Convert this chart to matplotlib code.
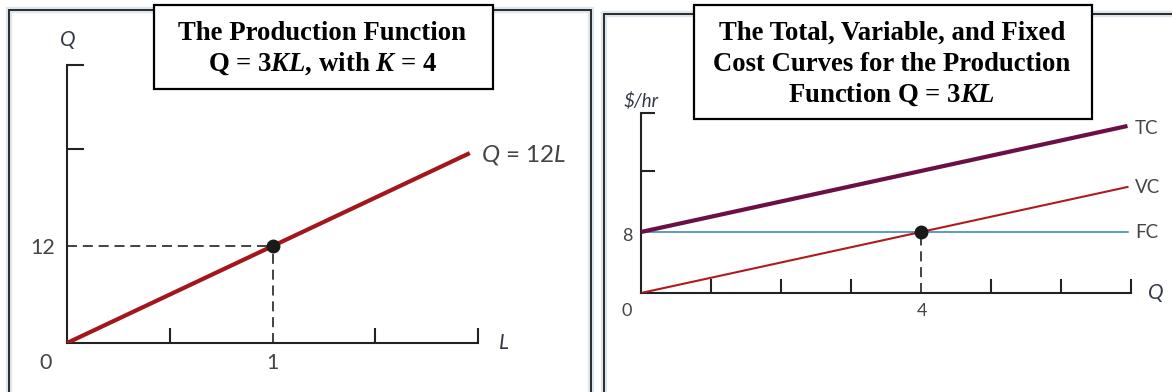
import matplotlib.pyplot as plt
from matplotlib.patches import Rectangle

plt.rcParams['mathtext.fontset'] = 'custom'
plt.rcParams['mathtext.it'] = 'Lato:italic'
plt.rcParams['mathtext.rm'] = 'Lato'
plt.rcParams['mathtext.bfit'] = 'Liberation Serif:italic:bold'

# production function Q = 12L (K = 4)
prod_L = [0, 1.96]
prod_Q = [0, 23.5]
prod_point = (1, 12)

# cost curves against output
cost_q = [0, 6.95]
tc = [8, 21.9]
vc = [0, 13.9]
fc = [8, 8]
cost_point = (4, 8)

W, H = 1172, 392
TXT = '#454548'
LBL = '#34394a'

fig = plt.figure(figsize=(W / 100, H / 100), dpi=100)

# overlay in pixel coordinates for the frames and title boxes
bg = fig.add_axes([0, 0, 1, 1])
bg.set_xlim(0, W)
bg.set_ylim(H, 0)
bg.axis('off')


def frame(x0, y0, x1, y1):
    xs = [x0, x0, x1, x1]
    ys = [y1, y0, y0, y1]
    bg.plot(xs, ys, color='#dde6ee', lw=4.5, solid_joinstyle='miter', zorder=1)
    bg.plot(xs, ys, color='#2a2a2a', lw=1.4, solid_joinstyle='miter', zorder=2)


frame(8.5, 9.5, 591, H + 10)
frame(604, 14, W + 10, H + 10)


def title_box(x0, y0, x1, y1, lines, cx, ys):
    bg.add_patch(Rectangle((x0, y0), x1 - x0, y1 - y0, facecolor='white',
                           edgecolor='black', lw=1.6, zorder=5))
    for s, y in zip(lines, ys):
        bg.text(cx, y, s, ha='center', va='center', fontsize=19.3,
                family='Liberation Serif', weight='bold', zorder=6)


title_box(153.5, 5, 492.5, 88.5,
          ['The Production Function',
           r'Q = 3$\mathbfit{KL}$, with $\mathbfit{K}$ = 4'],
          322, [33, 64])
title_box(693.5, 5, 1092, 119,
          ['The Total, Variable, and Fixed',
           'Cost Curves for the Production',
           r'Function Q = 3$\mathbfit{KL}$'],
          892, [33, 64, 95])


def data_axes(x0, y_top, x1, y_bot):
    ax = fig.add_axes([x0 / W, 1 - y_bot / H, (x1 - x0) / W, (y_bot - y_top) / H])
    ax.patch.set_alpha(0)
    for s in ['top', 'right']:
        ax.spines[s].set_visible(False)
    for s in ['left', 'bottom']:
        ax.spines[s].set_linewidth(1.5)
        ax.spines[s].set_color('#222222')
    ax.tick_params(direction='in', width=1.5, color='#222222',
                   labelleft=False, labelbottom=False)
    return ax


# left panel: production function
ax1 = data_axes(67, 65, 478, 343)
ax1.set_xlim(0, 2)
ax1.set_ylim(0, 34.4)
ax1.set_xticks([0.5, 1.5, 2])
ax1.set_yticks([24, 34.4])
ax1.tick_params(axis='x', length=11)
ax1.tick_params(axis='y', length=12.5)
ax1.plot(prod_L, prod_Q, color='#a3161c', lw=3, solid_capstyle='butt', zorder=3)
px, py = prod_point
ax1.plot([0, px], [py, py], color='#222222', lw=1.2, ls=(0, (6, 3.5)), zorder=2)
ax1.plot([px, px], [0, py], color='#222222', lw=1.2, ls=(0, (6, 3.5)), zorder=2)
ax1.plot([px], [py], 'o', color='#1a1a1a', ms=9, zorder=4)

bg.text(68, 40, 'Q', ha='center', va='center', fontsize=15, style='italic',
        family='Lato', color=LBL)
bg.text(43, 248, '12', ha='center', va='center', fontsize=15.5, family='Lato', color=TXT)
bg.text(46, 363, '0', ha='center', va='center', fontsize=15.5, family='Lato', color=TXT)
bg.text(272, 363, '1', ha='center', va='center', fontsize=15.5, family='Lato', color=TXT)
bg.text(504, 343, 'L', ha='center', va='center', fontsize=15, style='italic',
        family='Lato', color=LBL)
bg.text(481, 155, r'$Q$ = 12$L$', ha='left', va='center', fontsize=17.5,
        family='Lato', color=TXT)

# right panel: total, variable and fixed cost
ax2 = data_axes(641, 113, 1131, 293)
ax2.set_xlim(0, 7)
ax2.set_ylim(0, 23.6)
ax2.set_xticks([1, 2, 3, 5, 6, 7])
ax2.set_yticks([16, 23.6])
ax2.tick_params(axis='x', length=10)
ax2.tick_params(axis='y', length=10)
ax2.plot(cost_q, tc, color='#6b0f47', lw=3, solid_capstyle='butt', zorder=3)
ax2.plot(cost_q, vc, color='#b01a1f', lw=1.5, zorder=3)
ax2.plot(cost_q, fc, color='#2b86a6', lw=1.1, zorder=2)
cx, cy = cost_point
ax2.plot([cx, cx], [0, cy], color='#222222', lw=1.2, ls=(0, (6, 3.5)), zorder=2)
ax2.plot([cx], [cy], 'o', color='#1a1a1a', ms=9, zorder=4)

bg.text(641, 101, r'\$/hr', ha='center', va='center', fontsize=13.5, style='italic',
        family='Lato', color=LBL)
bg.text(627, 236, '8', ha='center', va='center', fontsize=13, family='Lato', color=TXT)
bg.text(627, 311, '0', ha='center', va='center', fontsize=13, family='Lato', color=TXT)
bg.text(922, 311, '4', ha='center', va='center', fontsize=13, family='Lato', color=TXT)
bg.text(1156, 293, 'Q', ha='center', va='center', fontsize=15, style='italic',
        family='Lato', color=LBL)
for name, y in [('TC', 128), ('VC', 187), ('FC', 232)]:
    bg.text(1135, y, name, ha='left', va='center', fontsize=13.5, family='Lato', color=TXT)

fig.savefig('out.png', dpi=100)
